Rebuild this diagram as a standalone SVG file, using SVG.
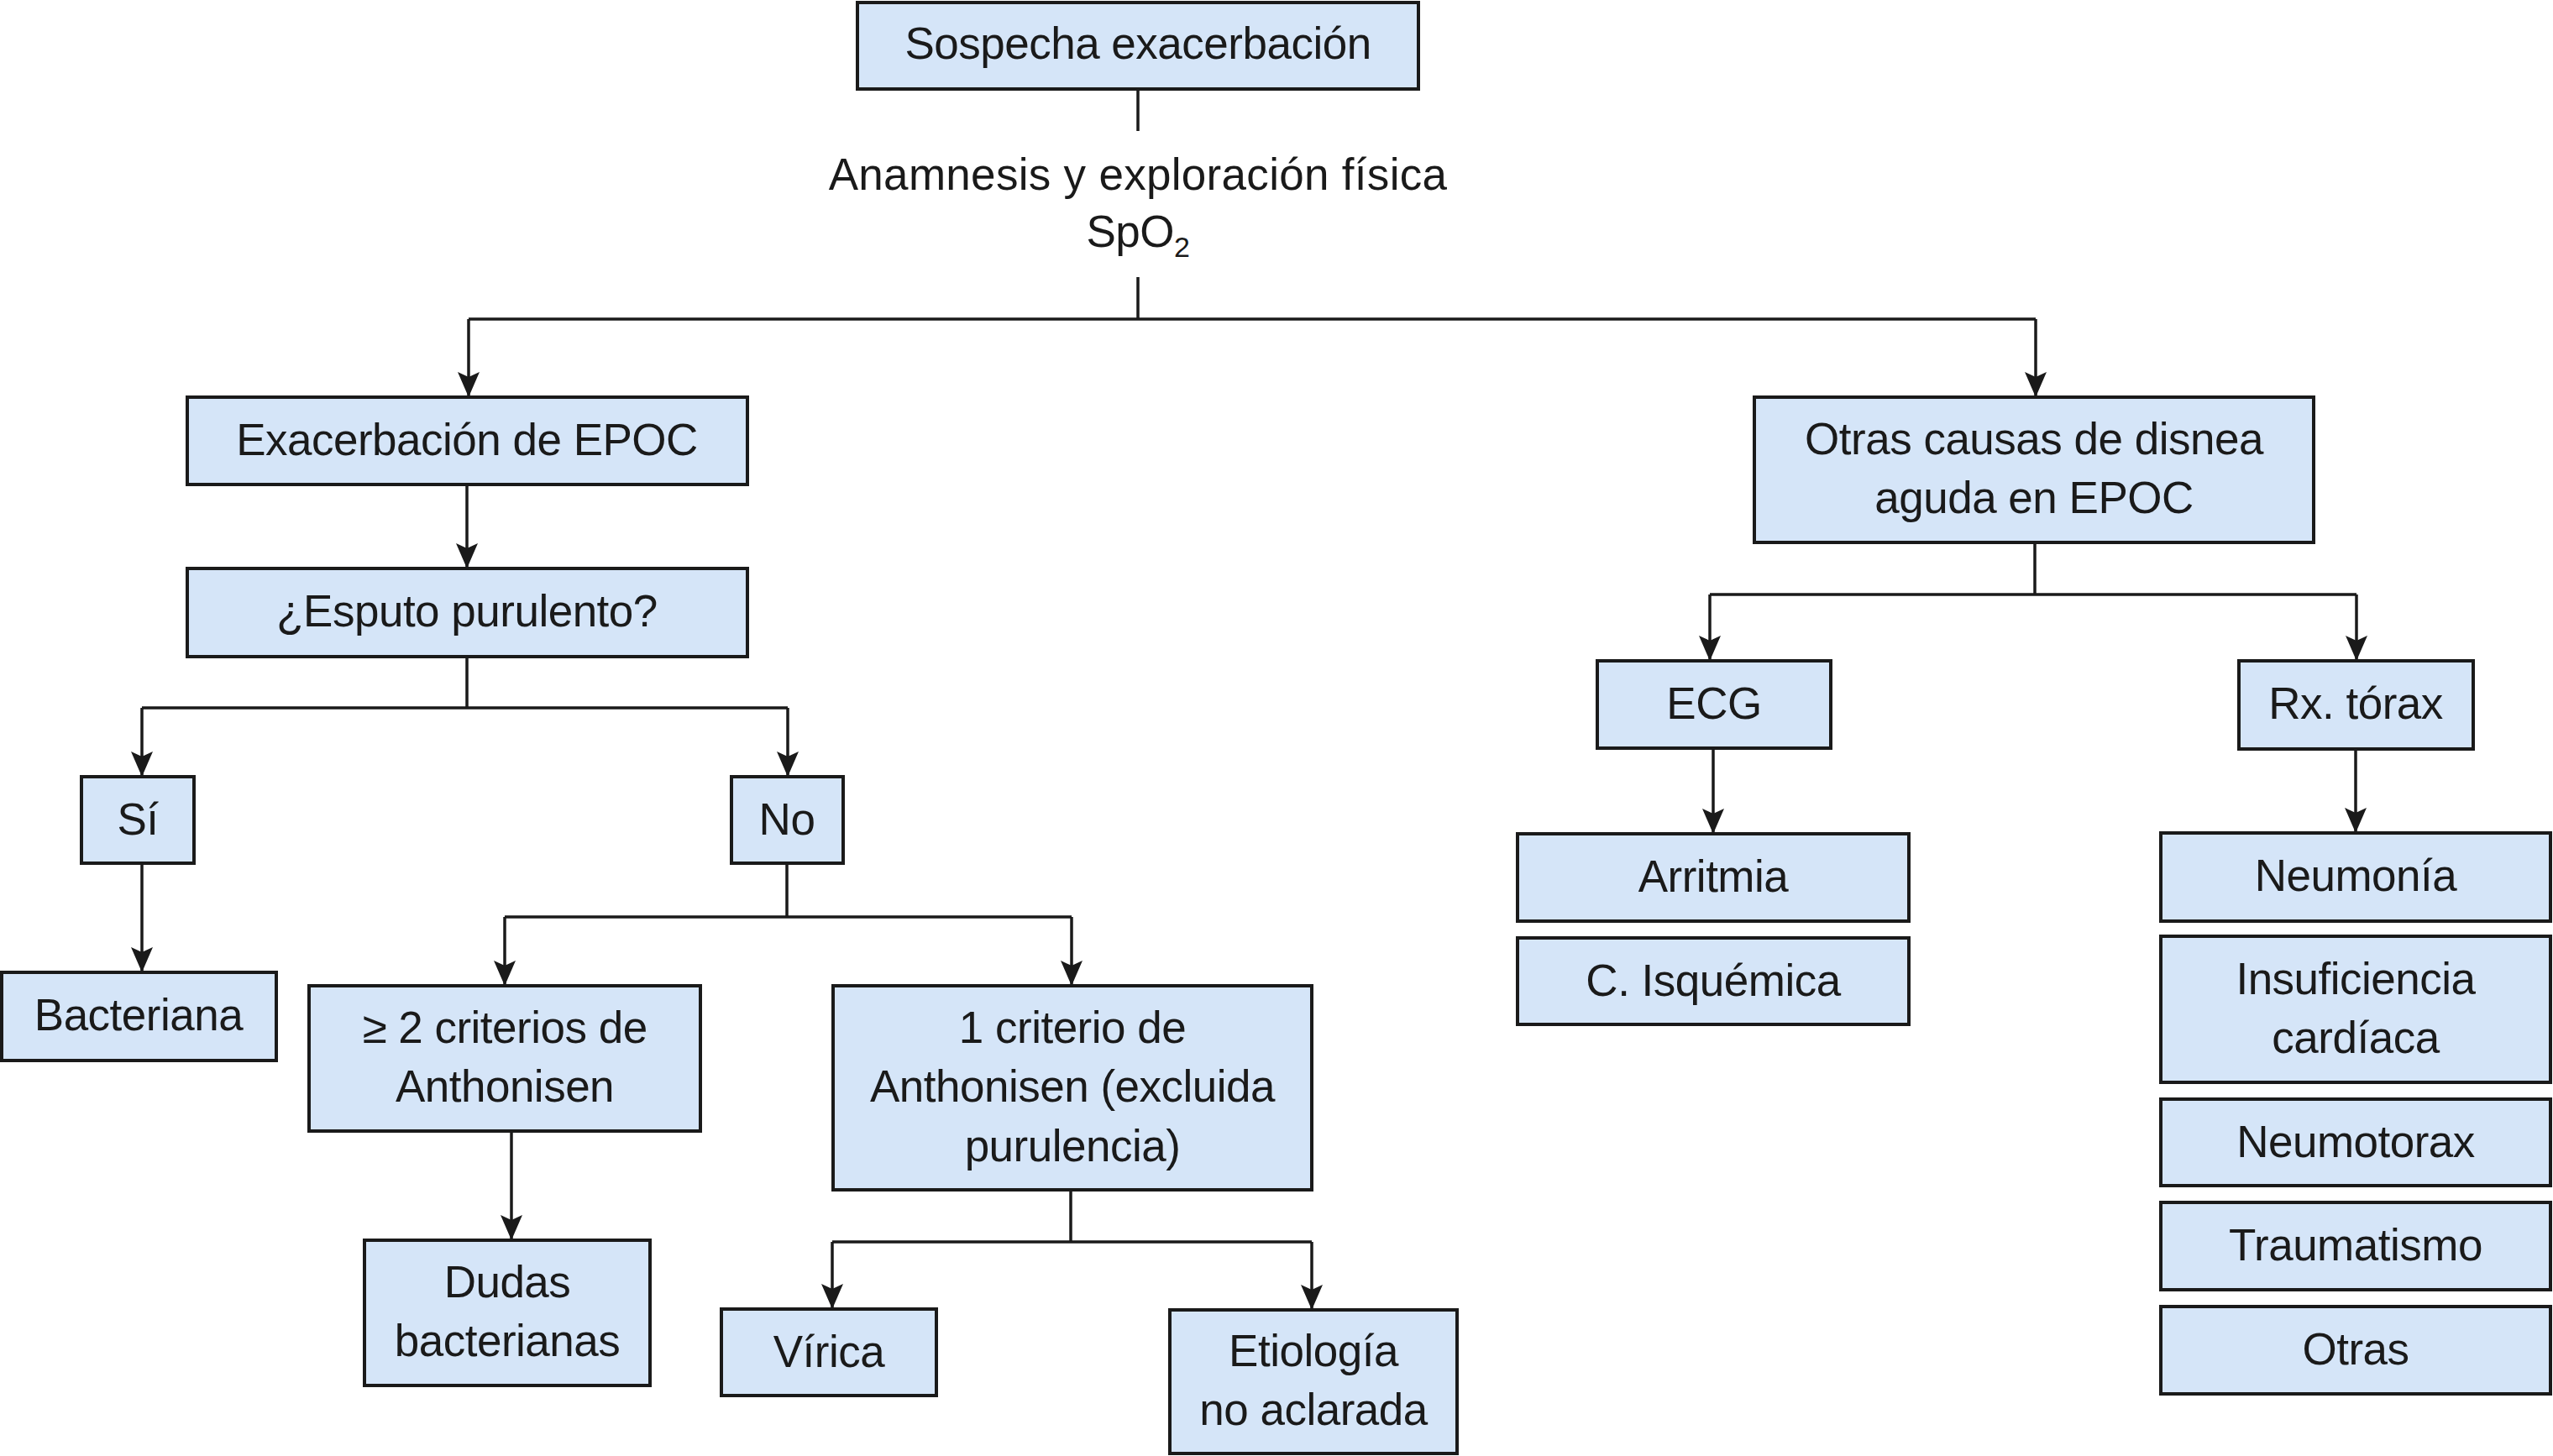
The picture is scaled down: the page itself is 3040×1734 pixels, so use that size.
<svg xmlns="http://www.w3.org/2000/svg" width="3040" height="1734" viewBox="0 0 3040 1734">
<style>
.box{fill:#d5e5f8;stroke:#1a1a1a;stroke-width:4}
.t{font-family:"Liberation Sans",Arial,sans-serif;font-size:53px;letter-spacing:-0.5px;fill:#1a1a1a;text-anchor:middle}
.c{fill:none;stroke:#1a1a1a;stroke-width:3.5}
.a{marker-end:url(#arr)}
</style>
<defs>
<marker id="arr" markerUnits="userSpaceOnUse" viewBox="-32 -15 34 30" refX="0" refY="0" markerWidth="34" markerHeight="30" orient="auto">
<path d="M0,0 L-30,-13 L-24,0 L-30,13 Z" fill="#1a1a1a"/>
</marker>
</defs>
<rect width="3040" height="1734" fill="#ffffff"/>
<g id="connectors">
<path class="c" d="M1355,106 V156"/>
<path class="c" d="M1355,330 V380 M558,380 H2424"/>
<path class="c a" d="M558,380 V473"/>
<path class="c a" d="M2424,380 V473"/>
<path class="c a" d="M556,577 V677"/>
<path class="c" d="M556,782 V843 M169,843 H938"/>
<path class="c a" d="M169,843 V925"/>
<path class="c a" d="M938,843 V925"/>
<path class="c a" d="M169,1028 V1158"/>
<path class="c" d="M937,1028 V1092 M601,1092 H1276"/>
<path class="c a" d="M601,1092 V1174"/>
<path class="c a" d="M1276,1092 V1174"/>
<path class="c a" d="M609,1347 V1477"/>
<path class="c" d="M1275,1417 V1479 M991,1479 H1562"/>
<path class="c a" d="M991,1479 V1559"/>
<path class="c a" d="M1562,1479 V1560"/>
<path class="c" d="M2423,646 V708 M2036,708 H2806"/>
<path class="c a" d="M2036,708 V787"/>
<path class="c a" d="M2806,708 V787"/>
<path class="c a" d="M2040,891 V993"/>
<path class="c a" d="M2805,892 V992"/>
</g>
<g id="n-sospecha"><rect class="box" x="1021" y="3" width="668" height="103"/><text class="t" x="1355" y="70">Sospecha exacerbación</text></g>
<g id="n-anamnesis"><text class="t" x="1355" y="226" style="letter-spacing:0.3px">Anamnesis y exploración física</text><text class="t" x="1355" y="294">SpO<tspan font-size="34" dy="12">2</tspan></text></g>
<g id="n-exacerbacion"><rect class="box" x="223" y="473" width="667" height="104"/><text class="t" x="556" y="542">Exacerbación de EPOC</text></g>
<g id="n-esputo"><rect class="box" x="223" y="677" width="667" height="105"/><text class="t" x="556" y="746">¿Esputo purulento?</text></g>
<g id="n-si"><rect class="box" x="97" y="925" width="134" height="103"/><text class="t" x="164" y="994">Sí</text></g>
<g id="n-no"><rect class="box" x="871" y="925" width="133" height="103"/><text class="t" x="937" y="994">No</text></g>
<g id="n-bacteriana"><rect class="box" x="2" y="1158" width="327" height="105"/><text class="t" x="165" y="1227">Bacteriana</text></g>
<g id="n-ge2"><rect class="box" x="368" y="1174" width="466" height="173"/><text class="t" x="601" y="1242">≥ 2 criterios de</text><text class="t" x="601" y="1312">Anthonisen</text></g>
<g id="n-uno"><rect class="box" x="992" y="1174" width="570" height="243"/><text class="t" x="1277" y="1242">1 criterio de</text><text class="t" x="1277" y="1312">Anthonisen (excluida</text><text class="t" x="1277" y="1383">purulencia)</text></g>
<g id="n-dudas"><rect class="box" x="434" y="1477" width="340" height="173"/><text class="t" x="604" y="1545">Dudas</text><text class="t" x="604" y="1615">bacterianas</text></g>
<g id="n-virica"><rect class="box" x="859" y="1559" width="256" height="103"/><text class="t" x="987" y="1628">Vírica</text></g>
<g id="n-etiologia"><rect class="box" x="1393" y="1560" width="342" height="171"/><text class="t" x="1564" y="1627">Etiología</text><text class="t" x="1564" y="1697">no aclarada</text></g>
<g id="n-otras-causas"><rect class="box" x="2089" y="473" width="666" height="173"/><text class="t" x="2422" y="541">Otras causas de disnea</text><text class="t" x="2422" y="611">aguda en EPOC</text></g>
<g id="n-ecg"><rect class="box" x="1902" y="787" width="278" height="104"/><text class="t" x="2041" y="856">ECG</text></g>
<g id="n-rx"><rect class="box" x="2666" y="787" width="279" height="105"/><text class="t" x="2805" y="856">Rx. tórax</text></g>
<g id="n-arritmia"><rect class="box" x="1807" y="993" width="466" height="104"/><text class="t" x="2040" y="1062">Arritmia</text></g>
<g id="n-isquemica"><rect class="box" x="1807" y="1117" width="466" height="103"/><text class="t" x="2040" y="1186">C. Isquémica</text></g>
<g id="n-neumonia"><rect class="box" x="2573" y="992" width="464" height="105"/><text class="t" x="2805" y="1061">Neumonía</text></g>
<g id="n-insuficiencia"><rect class="box" x="2573" y="1115" width="464" height="174"/><text class="t" x="2805" y="1184">Insuficiencia</text><text class="t" x="2805" y="1254">cardíaca</text></g>
<g id="n-neumotorax"><rect class="box" x="2573" y="1309" width="464" height="103"/><text class="t" x="2805" y="1378">Neumotorax</text></g>
<g id="n-traumatismo"><rect class="box" x="2573" y="1432" width="464" height="104"/><text class="t" x="2805" y="1501">Traumatismo</text></g>
<g id="n-otras"><rect class="box" x="2573" y="1556" width="464" height="104"/><text class="t" x="2805" y="1625">Otras</text></g>
</svg>
